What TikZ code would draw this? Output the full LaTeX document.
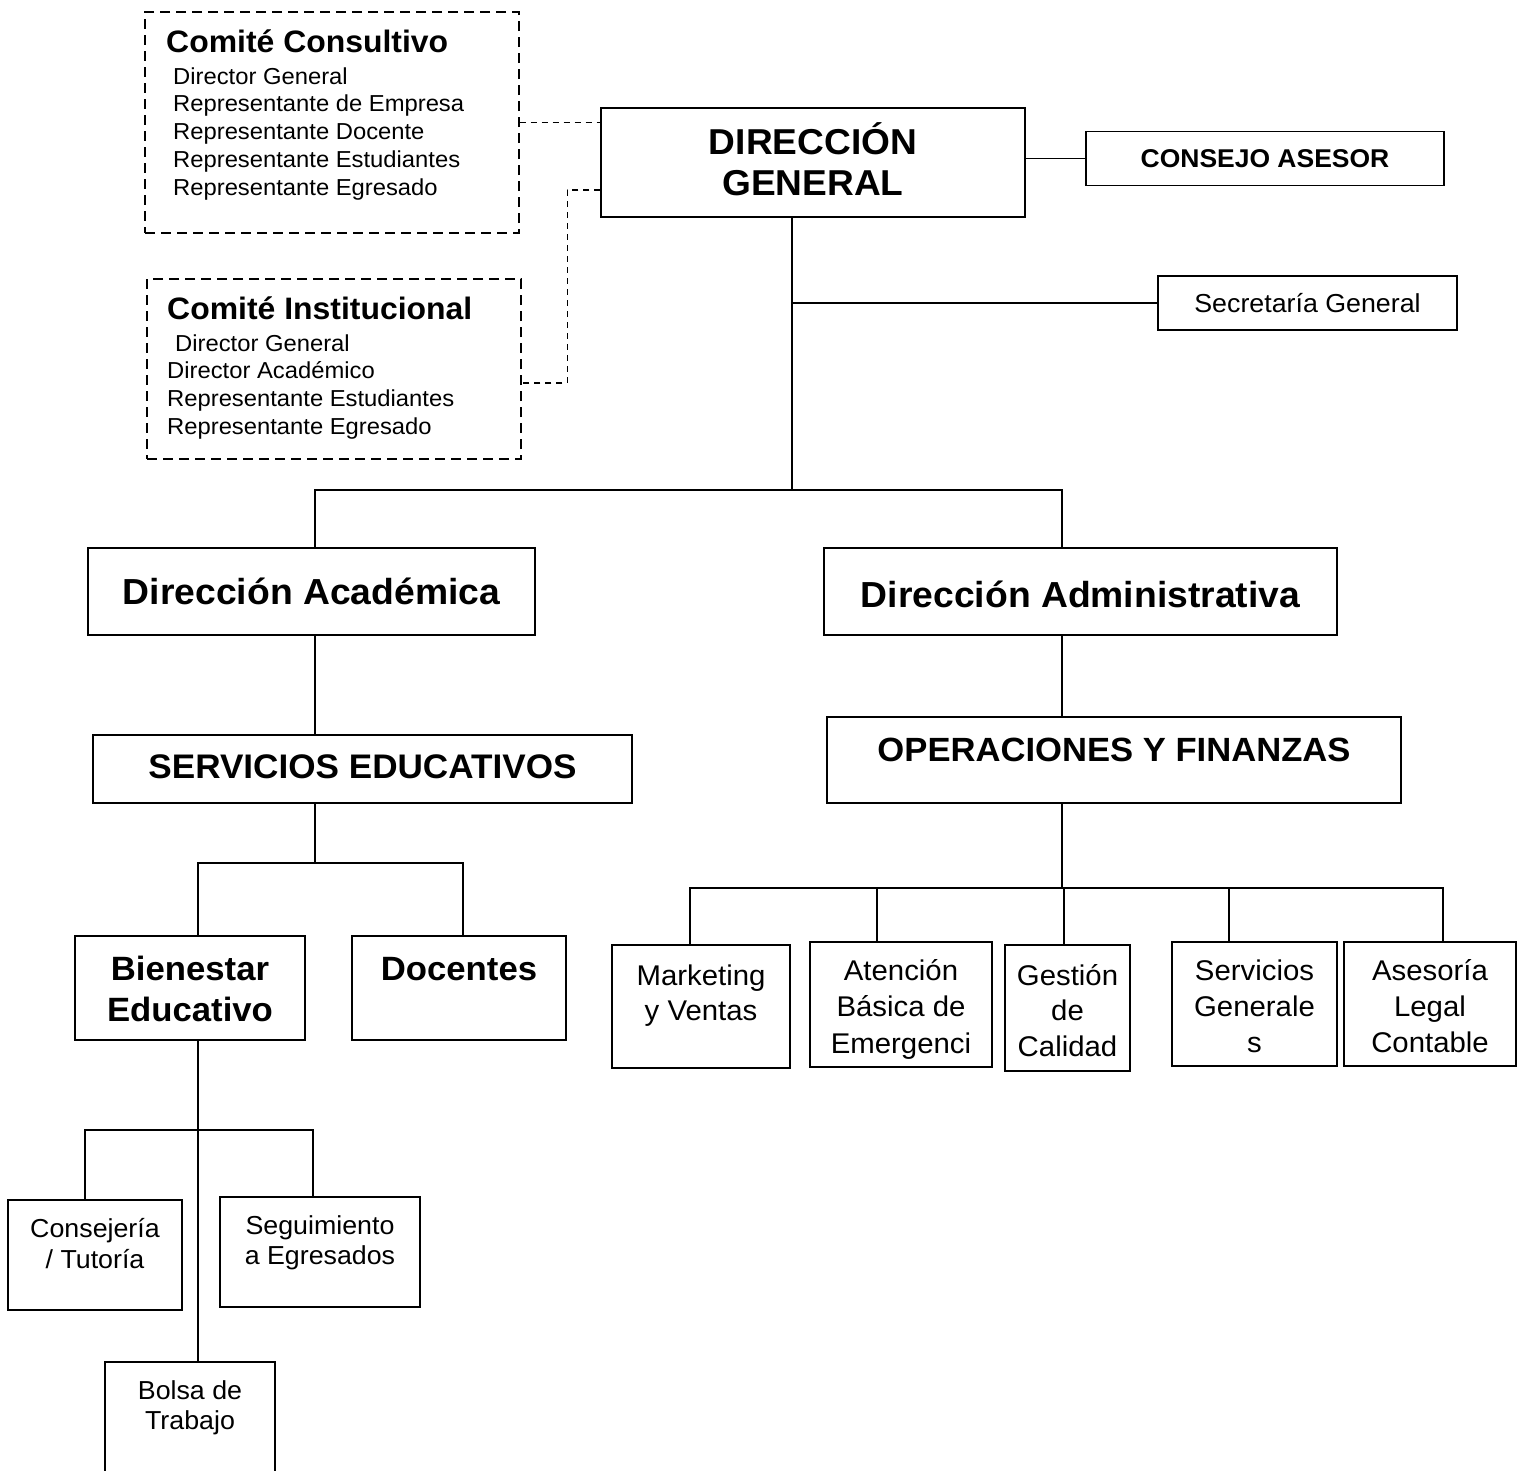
\documentclass[tikz,border=0pt]{standalone}
\usepackage{fontspec}
\setmainfont{Liberation Sans}[FakeStretch=1.03]
\usepackage{tikz}
\newcommand{\fs}[2]{\fontsize{#1}{#2}\selectfont}
\newcommand{\lineup}{\rule{0pt}{1em}}
\tikzset{
  unit/.style = {draw=black, line width=1.3pt, inner sep=0pt},
  comite/.style = {unit, dash pattern=on 10pt off 6pt},
  txt/.style = {anchor=north, inner sep=0pt, align=center},
  ltxt/.style = {anchor=north west, inner sep=0pt, align=left},
  link/.style = {line width=1.3pt},
  dlink/.style = {line width=1.1pt, dash pattern=on 6pt off 5pt},
}

\begin{document}
\begin{tikzpicture}[x=1pt,y=-1pt]
\useasboundingbox (0,0) rectangle (1518,1470);
% comites
\node [comite, minimum width=374pt, minimum height=221pt] (cc) at (332,122.5) {};
\node [ltxt, font=\fs{31}{34}\bfseries] (cct) at (166,21) {\lineup Comité Consultivo};
\node [ltxt, font=\fs{23.1}{27.7}] (ccm) at (173,60.9) {\lineup Director General\\Representante de Empresa\\Representante Docente\\Representante Estudiantes\\Representante Egresado};
\node [comite, minimum width=374pt, minimum height=180pt] (ci) at (334,369) {};
\node [ltxt, font=\fs{31}{34}\bfseries] (cit) at (167,288) {\lineup Comité Institucional};
\node [ltxt, font=\fs{23.1}{27.7}] (cim) at (167,327.9) {\lineup\hspace{8pt}Director General\\Director Académico\\Representante Estudiantes\\Representante Egresado};
% direccion general
\node [unit, minimum width=424pt, minimum height=109pt] (dg) at (813,162.5) {};
\node [txt, font=\fs{36}{41}\bfseries] (dgt) at (813,118) {\lineup DIRECCIÓN\\GENERAL};
\node [unit, minimum width=358pt, minimum height=54pt] (ca) at (1265,158.5) {};
\node [txt, font=\fs{25.7}{30}\bfseries] (cat) at (1265,141.3) {\lineup CONSEJO ASESOR};
\node [unit, minimum width=299pt, minimum height=54pt] (sg) at (1307.5,303) {};
\node [txt, font=\fs{26}{30}] (sgt) at (1307.5,286) {\lineup Secretaría General};
% direcciones
\node [unit, minimum width=447pt, minimum height=87pt] (dac) at (311.5,591.5) {};
\node [txt, font=\fs{36.2}{40}\bfseries] (dact) at (311.5,567.8) {\lineup Dirección Académica};
\node [unit, minimum width=513pt, minimum height=87pt] (dad) at (1080.5,591.5) {};
\node [txt, font=\fs{36.2}{40}\bfseries] (dadt) at (1080.5,570.8) {\lineup Dirección Administrativa};
\node [unit, minimum width=539pt, minimum height=68pt] (se) at (362.5,769) {};
\node [txt, font=\fs{34.1}{40}\bfseries] (set) at (362.5,743.9) {\lineup SERVICIOS EDUCATIVOS};
\node [unit, minimum width=574pt, minimum height=86pt] (of) at (1114,760) {};
\node [txt, font=\fs{33.6}{40}\bfseries] (oft) at (1114,727.4) {\lineup OPERACIONES Y FINANZAS};
% servicios educativos
\node [unit, minimum width=230pt, minimum height=104pt] (be) at (190,988) {};
\node [txt, font=\fs{33.7}{41}\bfseries] (bet) at (190,946.3) {\lineup Bienestar\\Educativo};
\node [unit, minimum width=214pt, minimum height=104pt] (doc) at (459,988) {};
\node [txt, font=\fs{33.7}{41}\bfseries] (doct) at (459,946.3) {\lineup Docentes};
\node [unit, minimum width=174pt, minimum height=110pt] (ct) at (95,1255) {};
\node [txt, font=\fs{26}{31}] (ctt) at (95,1211) {\lineup Consejería\\/ Tutoría};
\node [unit, minimum width=200pt, minimum height=110pt] (sq) at (320,1252) {};
\node [txt, font=\fs{26}{30}] (sqt) at (320,1208) {\lineup Seguimiento\\a Egresados};
\node [unit, minimum width=170pt, minimum height=138pt] (bt) at (190,1431) {};
\node [txt, font=\fs{26}{30}] (btt) at (190,1373) {\lineup Bolsa de\\Trabajo};
% operaciones y finanzas
\node [unit, minimum width=178pt, minimum height=123pt] (mk) at (701,1006.5) {};
\node [txt, font=\fs{28.5}{35}] (mkt) at (701,956.5) {\lineup Marketing\\y Ventas};
\node [unit, minimum width=182pt, minimum height=125pt] (at) at (901,1004.5) {};
\node [txt, font=\fs{28.5}{36.5}] (att) at (901,951.5) {\lineup Atención\\Básica de\\Emergenci};
\node [unit, minimum width=125pt, minimum height=126pt] (gc) at (1067.5,1008) {};
\node [txt, font=\fs{28.5}{35.5}] (gct) at (1067.5,956.5) {\lineup Gestión\\de\\Calidad};
\node [unit, minimum width=165pt, minimum height=124pt] (sv) at (1254.5,1004) {};
\node [txt, font=\fs{28.5}{36}] (svt) at (1254.5,951.5) {\lineup Servicios\\Generale\\s};
\node [unit, minimum width=172pt, minimum height=124pt] (al) at (1430,1004) {};
\node [txt, font=\fs{28.5}{36}] (alt) at (1430,951.5) {\lineup Asesoría\\Legal\\Contable};

% conectores
\draw [dlink] (cc.east) -- (cc.east -| dg.west);
\coordinate (ciport) at ([yshift=-14pt]ci.east);
\draw [dlink] ([yshift=-27.5pt]dg.west) -- ++(-33,0) |- (ciport);
\draw [link] (dg.east |- ca.west) -- (ca.west);
\coordinate (trunk) at ([xshift=-21pt]dg.south);
\coordinate (hub) at (792,490);
\draw [link] (trunk) -- (hub);
\draw [link] (trunk |- sg.west) -- (sg.west);
\draw [link] ([xshift=3.5pt]dac.north) |- (hub) -| ([xshift=-18.5pt]dad.north);
\draw [link] ([xshift=3.5pt]dac.south) -- ([xshift=3.5pt]dac.south |- se.north);
\draw [link] ([xshift=-18.5pt]dad.south) -- ([xshift=-18.5pt]dad.south |- of.north);
\coordinate (sehub) at (315,863);
\draw [link] ([xshift=-47.5pt]se.south) -- (sehub);
\draw [link] ([xshift=8pt]be.north) |- (sehub) -| ([xshift=4pt]doc.north);
\draw [link] ([xshift=8pt]be.south) -- ([xshift=8pt]bt.north);
\coordinate (behub) at (198,1130);
\draw [link] ([xshift=-10pt]ct.north) |- (behub) -| ([xshift=-7pt]sq.north);
\coordinate (ofhub) at (1062,888);
\draw [link] ([xshift=-52pt]of.south) -- (ofhub);
\draw [link] ([xshift=-11pt]mk.north) |- (ofhub) -| ([xshift=13pt]al.north);
\foreach \n/\dx in {at/-24, gc/-3.5, sv/-25.5}
  \draw [link] ([xshift=\dx pt]\n.north) -- ([xshift=\dx pt]\n.north |- ofhub);
\end{tikzpicture}
\end{document}
